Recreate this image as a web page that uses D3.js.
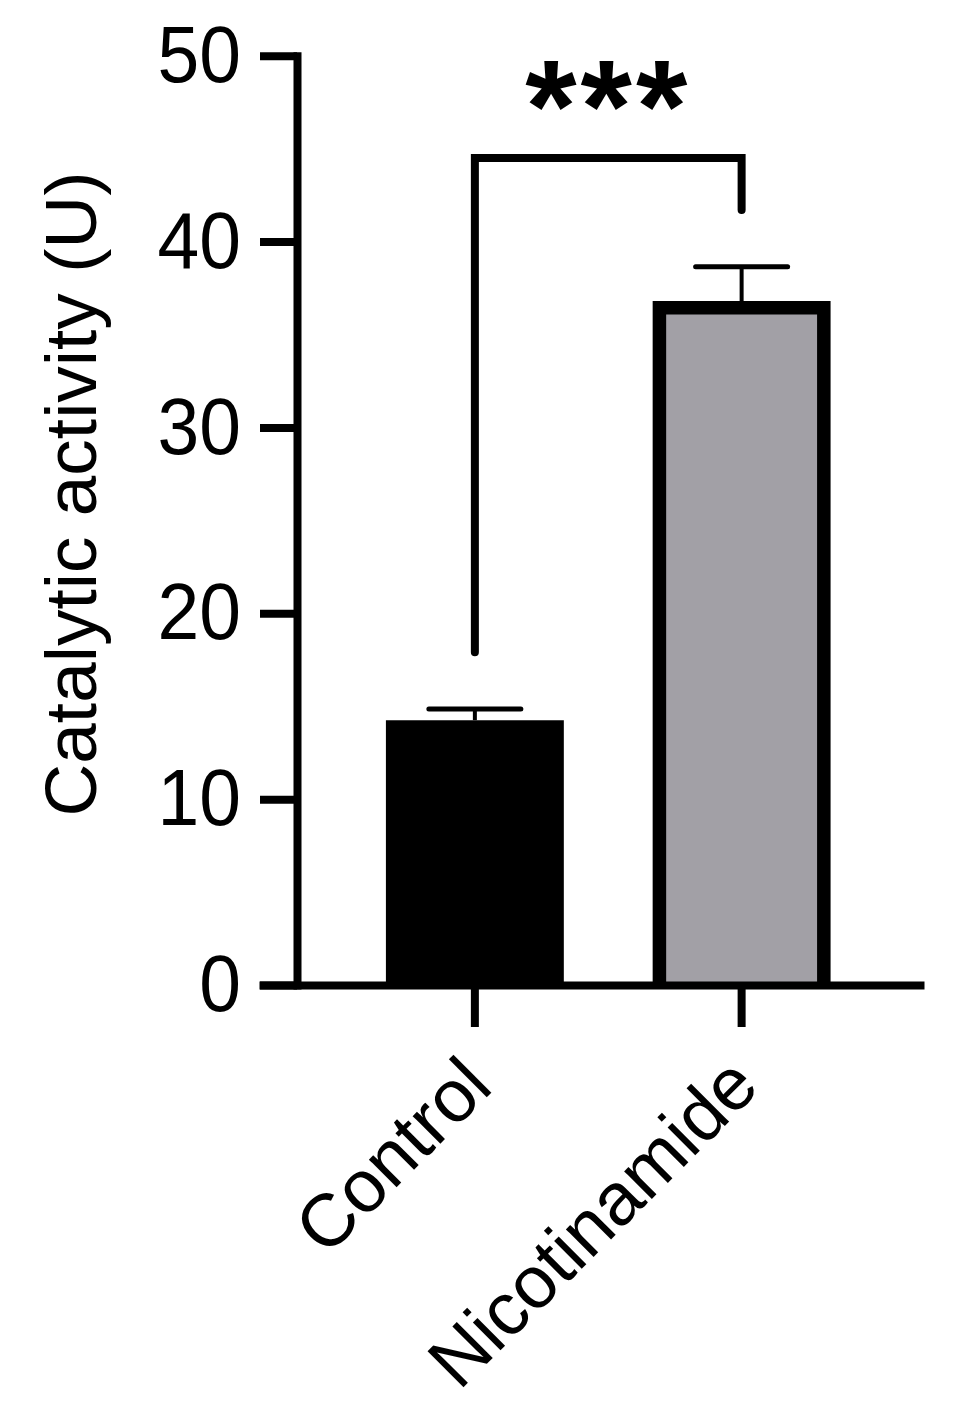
<!DOCTYPE html>
<html>
<head>
<meta charset="utf-8">
<script src="https://cdn.jsdelivr.net/npm/d3@7"></script>
<style>
    body { margin: 0; background: #ffffff; }
    svg { display: block; font-family: "Liberation Sans", Arial, sans-serif; }
</style>
</head>
<body>
<div id="chart"></div>
<script>
// data
const groups = ["Control", "Nicotinamide"];
const means = [14.25, 36.8];
const sems = [0.6, 1.85];
const yTicks = [0, 10, 20, 30, 40, 50];
// bracket: left foot, top, right foot (in data units)
const bracketLevels = [17.9, 44.5, 41.7];
const sigLabel = "***";

const width = 957;
const height = 1410;

const svg = d3.select("#chart")
              .append("svg")
              .attr("width", width)
              .attr("height", height);

svg.append("rect")
   .attr("width", width)
   .attr("height", height)
   .attr("fill", "#ffffff");

const x = d3.scaleBand()
            .domain(groups)
            .range([259, 924])
            .paddingInner(0.333)
            .paddingOuter(0.413)
            .align(0.576);

const y = d3.scaleLinear()
            .domain([0, 50])
            .range([985, 55.7]);

const fill = d3.scaleOrdinal()
               .domain(groups)
               .range(["#000000", "#a2a0a6"]);

const borderW = 13.5;
const bw = x.bandwidth();

// bars: outline open at the bottom so it stops on the axis
const barPath = (d, i) => {
    const inset = d === "Control" ? 0 : borderW / 2;
    const x0 = x(d) + inset;
    const x1 = x(d) + bw - inset;
    const top = y(means[i]) + inset;
    return "M" + x0 + "," + y(0) + "V" + top + "H" + x1 + "V" + y(0);
};
svg.append("g")
   .attr("class", "bars")
   .selectAll("path")
   .data(groups)
   .join("path")
   .attr("d", barPath)
   .style("fill", (d) => fill(d))
   .style("stroke", (d) => d === "Control" ? "none" : "#000000")
   .style("stroke-width", borderW)
   .style("stroke-linejoin", "miter");

// error bars (upper half only)
const errs = svg.append("g").attr("class", "errors");
errs.selectAll("line.stem")
    .data(groups)
    .join("line")
    .attr("class", "stem")
    .attr("x1", (d) => x(d) + bw / 2)
    .attr("x2", (d) => x(d) + bw / 2)
    .attr("y1", (d, i) => y(means[i]))
    .attr("y2", (d, i) => y(means[i] + sems[i]))
    .style("stroke", "#000000")
    .style("stroke-width", 4);
errs.selectAll("line.cap")
    .data(groups)
    .join("line")
    .attr("class", "cap")
    .attr("x1", (d) => x(d) + bw / 2 - 46)
    .attr("x2", (d) => x(d) + bw / 2 + 46)
    .attr("y1", (d, i) => y(means[i] + sems[i]))
    .attr("y2", (d, i) => y(means[i] + sems[i]))
    .style("stroke", "#000000")
    .style("stroke-width", 5)
    .style("stroke-linecap", "round");

// axes
const yAxis = svg.append("g")
                 .attr("class", "y-axis")
                 .attr("transform", "translate(297,0)")
                 .call(d3.axisLeft(y).tickValues(yTicks).tickSize(37).tickSizeOuter(0).tickPadding(19));
yAxis.select(".domain")
     .style("stroke", "#000000")
     .style("stroke-width", 8)
     .style("stroke-linecap", "square");
yAxis.selectAll(".tick line")
     .style("stroke", "#000000")
     .style("stroke-width", 8);
yAxis.selectAll(".tick text")
     .style("font-size", "75px")
     .style("fill", "#000000")
     .attr("transform", "scale(1,1.07)");

const xAxis = svg.append("g")
                 .attr("class", "x-axis")
                 .attr("transform", "translate(0," + y(0) + ")")
                 .call(d3.axisBottom(x).tickSize(42).tickSizeOuter(0));
xAxis.select(".domain")
     .style("stroke", "#000000")
     .style("stroke-width", 8);
xAxis.selectAll(".tick line")
     .style("stroke", "#000000")
     .style("stroke-width", 8);
xAxis.selectAll(".tick text")
     .attr("x", 0)
     .attr("y", 0)
     .attr("dy", null)
     .attr("transform", "translate(20,104) rotate(-45)")
     .style("text-anchor", "end")
     .style("font-size", "74px")
     .style("fill", "#000000");

// axis title
svg.append("text")
   .attr("transform", "translate(96,494) rotate(-90)")
   .style("text-anchor", "middle")
   .style("font-size", "73px")
   .style("fill", "#000000")
   .text("Catalytic activity (U)");

// significance bracket
const xl = x(groups[0]) + bw / 2;
const xr = x(groups[1]) + bw / 2;
const bracketLine = d3.line();
svg.append("path")
   .attr("d", bracketLine([[xl, y(bracketLevels[0])], [xl, y(bracketLevels[1])],
                           [xr, y(bracketLevels[1])], [xr, y(bracketLevels[2])]]))
   .style("fill", "none")
   .style("stroke", "#000000")
   .style("stroke-width", 8)
   .style("stroke-linecap", "round");

svg.append("text")
   .attr("x", (xl + xr) / 2)
   .attr("y", y(bracketLevels[1]) - 6)
   .style("text-anchor", "middle")
   .style("font-size", "132px")
   .style("font-weight", "bold")
   .style("letter-spacing", "4px")
   .style("fill", "#000000")
   .text(sigLabel);
</script>
</body>
</html>
